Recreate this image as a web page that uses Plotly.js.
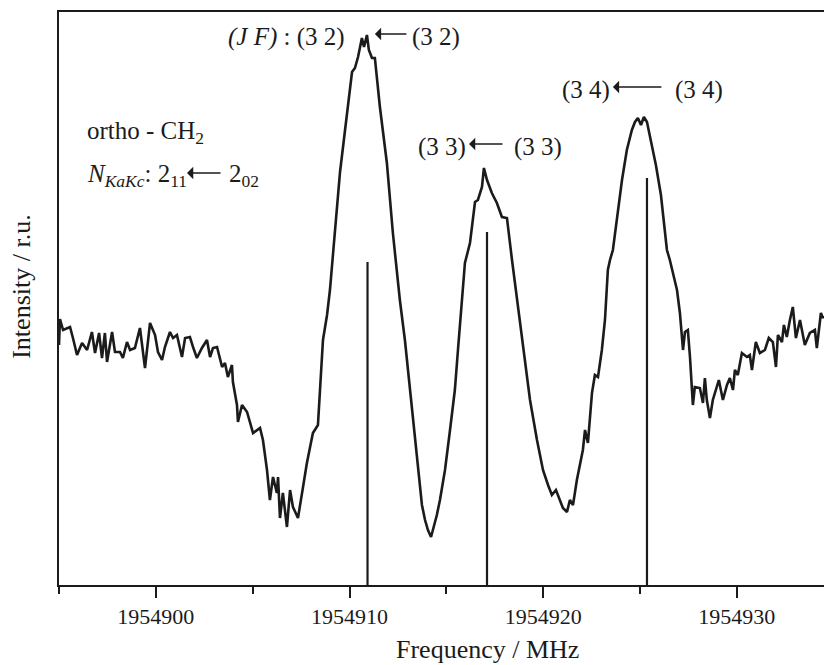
<!DOCTYPE html>
<html>
<head>
<meta charset="utf-8">
<script src="https://cdn.plot.ly/plotly-3.0.1.min.js"></script>
<style>html,body{margin:0;padding:0;background:#fff;}#chart{width:824px;height:665px;}</style>
</head>
<body>
<div id="chart"></div>
<script>
// Frequency (MHz) of the measured spectrum trace
var freq = [1954895.00,1954895.05,1954895.21,1954895.57,1954895.72,1954895.93,1954896.19,1954896.45,1954896.70,1954896.86,
1954897.07,1954897.22,1954897.37,1954897.48,1954897.74,1954897.89,1954898.15,1954898.30,1954898.51,1954898.67,
1954898.92,1954899.18,1954899.44,1954899.70,1954899.96,1954900.11,1954900.32,1954900.47,1954900.73,1954900.89,
1954901.09,1954901.35,1954901.51,1954901.76,1954901.92,1954902.12,1954902.38,1954902.64,1954902.80,1954902.95,
1954903.16,1954903.42,1954903.57,1954903.72,1954903.93,1954903.98,1954904.19,1954904.24,1954904.45,1954904.71,
1954905.02,1954905.38,1954905.53,1954905.74,1954905.89,1954906.05,1954906.25,1954906.31,1954906.41,1954906.56,
1954906.77,1954906.93,1954907.08,1954907.34,1954907.60,1954907.80,1954908.11,1954908.37,1954908.63,1954908.84,
1954908.99,1954909.15,1954909.35,1954909.51,1954909.77,1954910.13,1954910.28,1954910.44,1954910.64,1954910.75,
1954910.90,1954911.00,1954911.16,1954911.31,1954911.57,1954911.93,1954912.24,1954912.50,1954912.60,1954912.86,
1954913.12,1954913.38,1954913.53,1954913.74,1954913.90,1954914.05,1954914.21,1954914.36,1954914.51,1954914.67,
1954914.93,1954915.19,1954915.44,1954915.60,1954915.81,1954915.96,1954916.22,1954916.48,1954916.63,1954916.84,
1954916.94,1954917.10,1954917.35,1954917.61,1954917.87,1954918.13,1954918.39,1954918.65,1954919.06,1954919.32,
1954919.68,1954919.99,1954920.25,1954920.45,1954920.66,1954920.87,1954921.02,1954921.23,1954921.38,1954921.54,
1954921.74,1954922.05,1954922.16,1954922.31,1954922.52,1954922.67,1954922.83,1954923.03,1954923.19,1954923.34,
1954923.45,1954923.60,1954923.86,1954924.07,1954924.32,1954924.58,1954924.74,1954924.89,1954925.05,1954925.20,
1954925.36,1954925.56,1954925.82,1954926.08,1954926.23,1954926.39,1954926.54,1954926.91,1954927.06,1954927.22,
1954927.32,1954927.47,1954927.58,1954927.73,1954927.83,1954928.09,1954928.25,1954928.35,1954928.45,1954928.61,
1954928.76,1954928.97,1954929.07,1954929.28,1954929.49,1954929.64,1954929.80,1954929.90,1954930.05,1954930.26,
1954930.52,1954930.67,1954930.78,1954930.98,1954931.19,1954931.45,1954931.65,1954931.86,1954932.02,1954932.12,
1954932.33,1954932.43,1954932.58,1954932.74,1954932.89,1954933.05,1954933.26,1954933.51,1954933.77,1954934.03,
1954934.13,1954934.34,1954934.44,1954934.49];
// Intensity (relative units) of the trace
var intensity = [240,266,255,258,247,230,242,235,253,232,
252,227,252,223,253,233,233,227,243,235,
237,257,217,262,250,233,225,238,253,247,
250,228,247,248,238,227,237,245,228,237,
238,218,222,208,220,203,180,163,180,173,
152,157,145,115,85,108,92,108,67,92,
58,95,78,67,98,122,152,160,245,270,
295,330,380,413,455,513,517,528,547,538,
550,535,527,527,478,422,352,302,285,245,
195,145,115,80,65,55,48,58,70,85,
115,155,195,235,285,322,342,383,385,398,
417,405,392,382,368,367,325,285,225,185,
145,115,100,90,95,85,77,73,85,80,
105,135,155,142,192,210,208,235,265,315,
325,335,375,405,435,455,463,467,460,468,
463,445,420,390,360,335,325,295,272,235,
253,255,228,180,198,197,182,207,185,167,
185,197,205,185,200,207,195,215,210,232,
228,230,215,243,232,235,247,243,218,250,
243,260,248,265,278,247,265,240,252,255,
237,272,267,269];
// Theoretical hyperfine component positions (MHz) and relative strengths
var stickFreq = [1954910.93, 1954917.10, 1954925.36];
var stickHeight = [323, 353, 407];
// Axis ticks
var tickVals = [1954900, 1954910, 1954920, 1954930];
var tickLabels = ['1954900', '1954910', '1954920', '1954930'];

var sx = [], sy = [];
for (var i = 0; i < stickFreq.length; i++) {
  sx.push(stickFreq[i], stickFreq[i], null);
  sy.push(0, stickHeight[i], null);
}

var ink = '#1b1b1b';
var serif = 'Liberation Serif, Times New Roman, serif';

var traces = [
  {x: freq, y: intensity, type: 'scatter', mode: 'lines',
   line: {color: ink, width: 2.6}, hoverinfo: 'skip'},
  {x: sx, y: sy, type: 'scatter', mode: 'lines',
   line: {color: ink, width: 2.2}, hoverinfo: 'skip'}
];

function txt(x, y, text, anchor, size) {
  return {x: x, y: y, xref: 'x', yref: 'y', text: text, showarrow: false,
          xanchor: anchor, yanchor: 'middle',
          font: {family: serif, size: size || 25, color: ink}};
}
function arr(x, y, len) {
  return {x: x, y: y, xref: 'x', yref: 'y', text: '', showarrow: true,
          ax: len, ay: 0, arrowhead: 1, arrowsize: 1.3, arrowwidth: 1.6,
          arrowcolor: ink, standoff: 0, startstandoff: 0};
}

var annotations = [
  txt(1954909.87, 548, '<i>(J F)</i> : (3 2)', 'right'),
  arr(1954911.31, 551, 33),
  txt(1954913.12, 548, '(3 2)', 'left'),
  txt(1954916.12, 438, '(3 3)', 'right'),
  arr(1954916.17, 441, 35),
  txt(1954918.39, 438, '(3 3)', 'left'),
  txt(1954923.55, 495, '(3 4)', 'right'),
  arr(1954923.60, 498, 50),
  txt(1954926.70, 495, '(3 4)', 'left'),
  txt(1954896.34, 453, 'ortho - CH<sub>2</sub>', 'left'),
  txt(1954896.34, 410, '<i>N</i><sub><i>KaKc</i></sub>: 2<sub>11</sub>', 'left'),
  arr(1954901.61, 412, 35),
  txt(1954903.67, 410, '2<sub>02</sub>', 'left'),
  {x: 25, y: 0.5, xref: 'paper', yref: 'paper', text: '', showarrow: false},
  {xref: 'paper', yref: 'paper', x: -0.05, y: 0.52, text: 'Intensity / r.u.', textangle: -90,
   showarrow: false, xanchor: 'center', yanchor: 'middle',
   font: {family: serif, size: 26, color: ink}},
  {xref: 'paper', yref: 'paper', x: 0.56, y: -0.112, text: 'Frequency / MHz',
   showarrow: false, xanchor: 'center', yanchor: 'middle',
   font: {family: serif, size: 26, color: ink}}
];
annotations.splice(13, 1);

var layout = {
  width: 824, height: 665,
  margin: {l: 59, r: 0, t: 12, b: 80, pad: 0},
  paper_bgcolor: '#ffffff', plot_bgcolor: '#ffffff',
  showlegend: false,
  xaxis: {
    range: [1954895, 1954934.5], showgrid: false, zeroline: false,
    showline: true, mirror: true, linecolor: ink, linewidth: 2,
    ticks: 'outside', ticklen: 11, tickwidth: 2, tickcolor: ink,
    tickvals: tickVals, ticktext: tickLabels,
    tickfont: {family: serif, size: 22, color: ink},
    minor: {dtick: 5, tick0: 1954895, ticks: 'outside', ticklen: 7, tickwidth: 2, tickcolor: ink, showgrid: false}
  },
  yaxis: {
    range: [0, 573], showgrid: false, zeroline: false,
    showline: true, linecolor: ink, linewidth: 2,
    ticks: '', showticklabels: false
  },
  annotations: annotations
};

Plotly.newPlot('chart', traces, layout, {staticPlot: true, displayModeBar: false});
</script>
</body>
</html>
